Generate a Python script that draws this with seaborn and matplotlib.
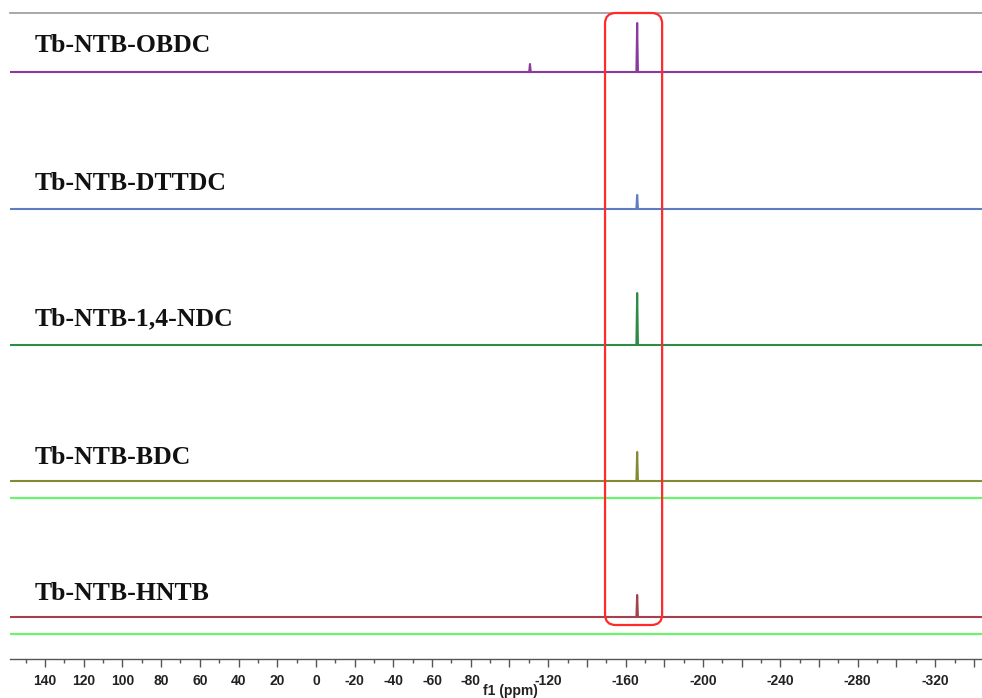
import matplotlib
matplotlib.use("Agg")
import matplotlib.pyplot as plt
import seaborn as sns
import pandas as pd
from matplotlib.patches import FancyBboxPatch
from matplotlib.ticker import MultipleLocator, FixedLocator, FixedFormatter

sns.set_style("white")

# ---- data ----
samples = ["Tb-NTB-OBDC", "Tb-NTB-DTTDC", "Tb-NTB-1,4-NDC", "Tb-NTB-BDC", "Tb-NTB-HNTB"]
colors = ["#8A3A9E", "#5D7DBE", "#2E8B47", "#838A32", "#A3424C"]
offsets = [587, 450, 314, 178, 42]          # stacking offsets of the spectra
ref_lines = [161, 25]                        # light-green reference traces

obdc_ppm = [158, -110.2, -110.6, -111.0, -165.6, -166.0, -166.4, -344]
obdc_int = [0, 0, 8, 0, 0, 49, 0, 0]
dttdc_ppm = [158, -165.6, -166.0, -166.4, -344]
dttdc_int = [0, 0, 14, 0, 0]
ndc_ppm = [158, -165.6, -166.0, -166.4, -344]
ndc_int = [0, 0, 52, 0, 0]
bdc_ppm = [158, -165.6, -166.0, -166.4, -344]
bdc_int = [0, 0, 29, 0, 0]
hntb_ppm = [158, -165.6, -166.0, -166.4, -344]
hntb_int = [0, 0, 22, 0, 0]

tick_values = [140, 120, 100, 80, 60, 40, 20, 0, -20, -40, -60, -80, -100, -120, -140,
               -160, -180, -200, -220, -240, -260, -280, -300, -320, -340]
tick_labels = ["140", "120", "100", "80", "60", "40", "20", "0", "-20", "-40", "-60", "-80", "",
               "-120", "", "-160", "", "-200", "", "-240", "", "-280", "", "-320", ""]

ppm_lists = [obdc_ppm, dttdc_ppm, ndc_ppm, bdc_ppm, hntb_ppm]
int_lists = [obdc_int, dttdc_int, ndc_int, bdc_int, hntb_int]

rows = []
for name, off, xs, ys in zip(samples, offsets, ppm_lists, int_lists):
    for i, (x, y) in enumerate(zip(xs, ys)):
        rows.append({"sample": name, "ppm": x, "y": y + off, "order": i})
df = pd.DataFrame(rows)

fig = plt.figure(figsize=(9.82, 6.98), dpi=100)
ax = fig.add_axes([10 / 982, 39 / 698, 972 / 982, 646 / 698])

for ry in ref_lines:
    ax.axhline(ry, color="#6CF56C", lw=1.6, zorder=1)

sns.lineplot(data=df, x="ppm", y="y", hue="sample", palette=dict(zip(samples, colors)),
             estimator=None, sort=False, units="sample", lw=1.5, legend=False, ax=ax, zorder=2)

ax.set_xlim(158.1, -344.2)
ax.set_ylim(0, 646)

# labels
label_y = [613, 476, 340, 202, 65]
for name, ly in zip(samples, label_y):
    ax.text(145.3, ly, name, fontsize=18.5, fontweight="bold", family="Liberation Serif",
            ha="left", va="center", color="#111111")

# highlighting box
box_x0, box_x1 = -178.9, -149.4
box_y0, box_y1 = 34, 646
box = FancyBboxPatch((box_x0, box_y0), box_x1 - box_x0, box_y1 - box_y0,
                     boxstyle="round,pad=0,rounding_size=5.5", mutation_aspect=1.935,
                     fill=False, edgecolor="#FF2A2A", lw=1.6, zorder=5, clip_on=False)
ax.add_patch(box)

# axes styling
for s in ["left", "right"]:
    ax.spines[s].set_visible(False)
ax.spines["top"].set_color("#999999")
ax.spines["top"].set_linewidth(1.2)
ax.spines["bottom"].set_color("#555555")
ax.spines["bottom"].set_linewidth(1.0)
ax.set_yticks([])
ax.xaxis.set_major_locator(FixedLocator(tick_values))
ax.xaxis.set_major_formatter(FixedFormatter(tick_labels))
ax.xaxis.set_minor_locator(MultipleLocator(10))
ax.tick_params(axis="x", which="major", direction="out", length=6, width=1, color="#555555",
               bottom=True, top=False, labelsize=10, pad=5)
ax.tick_params(axis="x", which="minor", direction="out", length=3, width=1, color="#555555",
               bottom=True, top=False)
for lab in ax.get_xticklabels():
    lab.set_fontfamily("Liberation Sans")
    lab.set_fontweight("bold")
    lab.set_color("#222222")
ax.set_xlabel("")
ax.set_ylabel("")
fig.text(510 / 982, 7.5 / 698, "f1 (ppm)", fontsize=10, fontweight="bold",
         family="Liberation Sans", ha="center", va="center", color="#222222")

fig.savefig("out.png", dpi=100)
